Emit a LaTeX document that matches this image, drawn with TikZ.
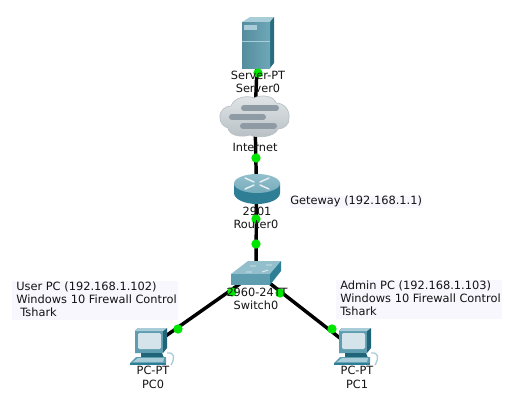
\documentclass[tikz,border=0pt]{standalone}
\usepackage{fontspec}
\setmainfont{DejaVu Sans}
\definecolor{lab}{HTML}{F7F7FD}
\definecolor{tealA}{HTML}{5E9DB0}
\definecolor{tealB}{HTML}{2E7F95}
\definecolor{tealC}{HTML}{A9CDD8}
\definecolor{tealD}{HTML}{1F6478}
\definecolor{scr}{HTML}{D5E4EA}
\definecolor{cloudA}{HTML}{E2E6E8}
\definecolor{cloudB}{HTML}{B8C0C5}
\definecolor{barc}{HTML}{8E9BA5}
\definecolor{txt}{HTML}{141414}
\tikzset{
 x=0.75pt,y=-0.75pt,
 link/.style={line width=2.6pt,black},
 port/.style={circle,fill=green!90!black,draw=none,minimum size=7pt,inner sep=0pt},
 anchorpt/.style={inner sep=0pt,minimum size=0pt,outer sep=0pt},
 dev/.style={font=\fontsize{8.5pt}{10pt}\selectfont,inner sep=0pt,align=center,text=txt},
 note/.style={font=\fontsize{8.55pt}{9.85pt}\selectfont,inner sep=0pt,align=left,text=txt,anchor=north west},
 notebox/.style={fill=lab,draw=none},
 pcicon/.pic={
  % mouse cable
  \draw[tealC,line width=1pt] (17,17) .. controls (25,16) and (25,22) .. (21,29);
  % stand
  \fill[tealD] (-9,17) -- (12,17) -- (14,22) -- (-9,22) -- cycle;
  % keyboard
  \fill[tealA] (-20,27) -- (-14,21) -- (16,21) -- (16,27) -- cycle;
  \fill[tealC] (-17,26) -- (-12,22) -- (14,22) -- (13,26) -- cycle;
  \fill[tealB] (-20,27) rectangle (16,29);
  % monitor
  \fill[tealD] (-15,-5) -- (-12,-8) -- (17,-8) -- (17,12) -- (13,17) -- (-15,17) -- cycle;
  \fill[tealA] (-15,-5) -- (13,-5) -- (13,17) -- (-15,17) -- cycle;
  \fill[tealC] (-15,-5) -- (-12,-8) -- (17,-8) -- (13,-5) -- cycle;
  \fill[scr,rounded corners=1pt] (-12,-3) rectangle (11,13);
 },
}
\begin{document}
\begin{tikzpicture}
\useasboundingbox (0,0) rectangle (509,407);
\fill[white] (0,0) rectangle (509,407);
% note backgrounds
\fill[notebox] (12,281) rectangle (178,320);
\fill[notebox] (336,280) rectangle (502,319);
\fill[notebox] (290,196) rectangle (422,208);
% device anchors
\node[anchorpt] (server) at (258,42) {};
\node[anchorpt] (cloud) at (255,117) {};
\node[anchorpt] (router) at (256.5,190) {};
\node[anchorpt] (switch) at (256,272.5) {};
\node[anchorpt] (pc0) at (150,347) {};
\node[anchorpt] (pc1) at (354,349) {};
% connectors
\draw[link] (server) -- (cloud);
\draw[link] (cloud) -- (router);
\draw[link] (router) -- (switch);
\draw[link] (switch) -- (pc0);
\draw[link] (switch) -- (pc1);
% server icon
\fill[tealC] (242,22) -- (250,17) -- (274,17) -- (270,22) -- cycle;
\fill[tealB!85!black] (270,22) -- (274,17) -- (274,63) -- (270,68) -- cycle;
\shade[left color=tealA!90!black,right color=tealA!90!white] (242,22) rectangle (270,68);
\fill[tealC] (244,25) rectangle (257,30);
\draw[tealC,line width=0.4pt] (242,41) -- (270,41);
% cloud icon
\shade[top color=cloudA,bottom color=cloudB,draw=cloudB,line width=0.5pt]
 (220,118) .. controls (219,110) and (226,106) .. (231,106)
 .. controls (234,97) and (248,95) .. (254,98)
 .. controls (262,94) and (274,96) .. (276,103)
 .. controls (284,103) and (290,110) .. (289,118)
 .. controls (290,124) and (284,129) .. (278,129)
 .. controls (274,138) and (256,138) .. (250,135)
 .. controls (240,138) and (229,135) .. (228,128)
 .. controls (224,127) and (220,123) .. (220,118) -- cycle;
\draw[barc,line width=4.5pt,line cap=round] (244,108) -- (276,108);
\draw[barc,line width=4.5pt,line cap=round] (232,117) -- (263,117);
\draw[barc,line width=4.5pt,line cap=round] (243,126) -- (274,126);
% router icon
\shade[left color=tealB,middle color=tealC!35!white,right color=tealB] (234,183) -- (234,193) arc[start angle=180,end angle=360,x radius=23,y radius=-11] -- (280,183) -- cycle;
\shade[top color=tealC!70!tealA,bottom color=tealA!85!white] (257,183.5) ellipse[x radius=23,y radius=9.5];
\draw[white!85!tealA,line width=1.1pt,line cap=round] (245,178) -- (254,182) (269,178) -- (260,182) (245,189) -- (254,185) (269,189) -- (260,185);
% switch icon
\fill[tealC!70!tealA] (231,274) -- (248,261) -- (281,261) -- (270,274) -- cycle;
\fill[tealB] (270,274) -- (281,261) -- (281,271) -- (270,285) -- cycle;
\fill[tealA] (231,274) rectangle (270,285);
\draw[white!80!tealA,line width=0.7pt] (246,272) -- (252,272) (262,272) -- (268,270) (250,266) -- (256,266) (266,265) -- (272,265);
% pc icons
\pic at (150,336) {pcicon};
\pic at (354,336) {pcicon};
% ports
\node[port] (p1) at (258,73) {};
\node[port] (p2) at (256,158) {};
\node[port] (p3) at (256,219) {};
\node[port] (p4) at (256,244) {};
\node[port] (p5) at (232,292) {};
\node[port] (p6) at (280,293) {};
\node[port] (p7) at (178,329) {};
\node[port] (p8) at (332,329) {};
% labels
\node[dev] (t1) at (258,75) {Server-PT};
\node[dev] (t2) at (258,88) {Server0};
\node[dev] (t3) at (255,147) {Internet};
\node[dev] (t4) at (257,211) {2901};
\node[dev] (t5) at (256,224) {Router0};
\node[dev] (t6) at (257,292) {2960-24TT};
\node[dev] (t7) at (256,305) {Switch0};
\node[dev] (t8) at (153,370) {PC-PT};
\node[dev] (t9) at (153,384) {PC0};
\node[dev] (t10) at (357,370) {PC-PT};
\node[dev] (t11) at (357,384) {PC1};
\node[note] (n1) at (290,196) {Geteway (192.168.1.1)};
\node[note] (n2) at (16,281.5) {User PC (192.168.1.102)\\Windows 10 Firewall Control\\ \hspace*{3pt}Tshark};
\node[note] (n3) at (340,280.5) {Admin PC (192.168.1.103)\\Windows 10 Firewall Control\\Tshark};
\end{tikzpicture}
\end{document}
